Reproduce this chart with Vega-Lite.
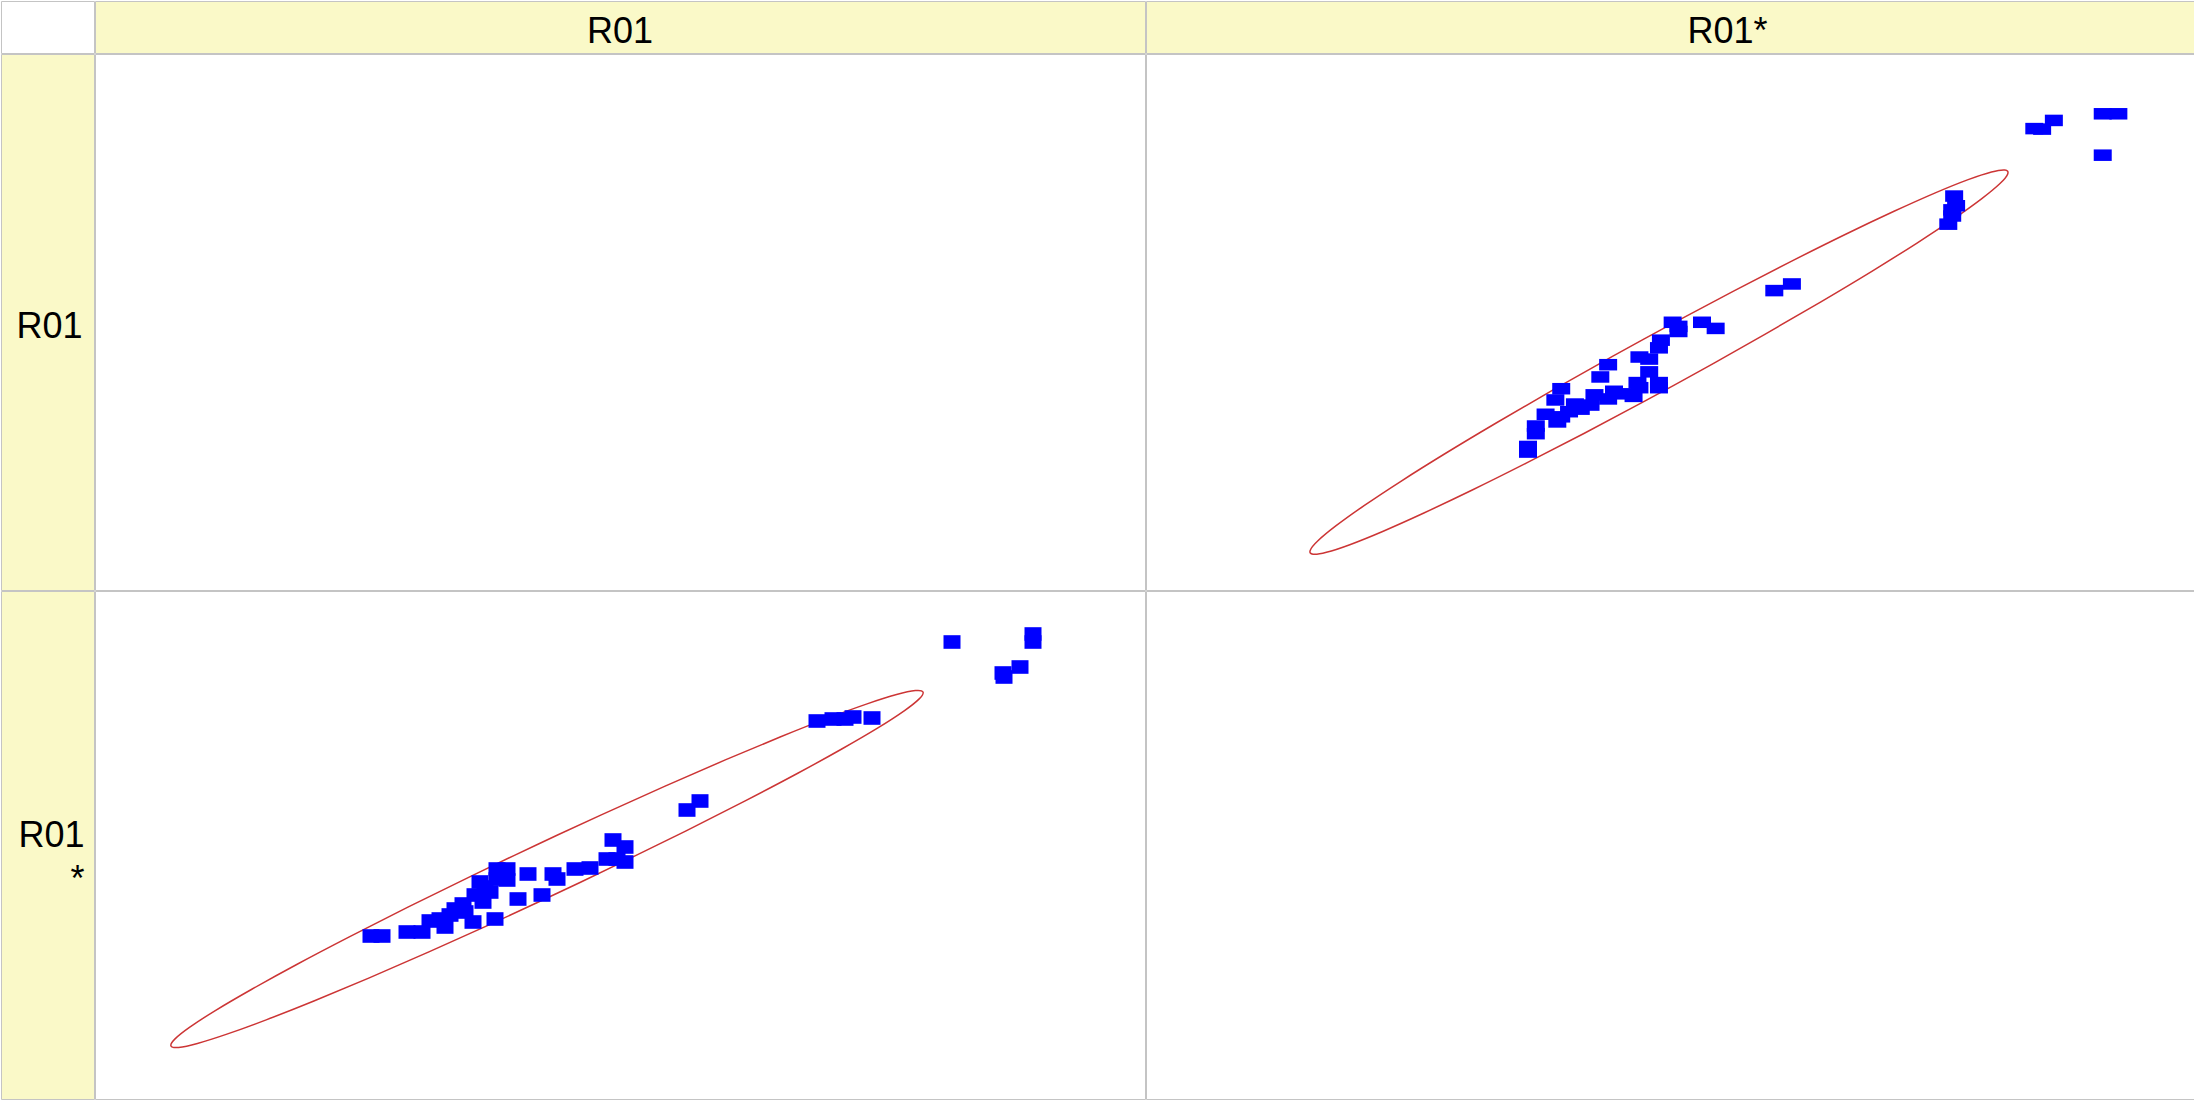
{
  "$schema": "https://vega.github.io/schema/vega-lite/v6.json",
  "padding": 0,
  "spacing": -2,
  "background": "white",
  "config": {
    "view": {"stroke": "#c4c4c4", "strokeWidth": 1},
    "concat": {"spacing": -2},
    "text": {"font": "Liberation Sans", "fontSize": 36, "color": "#000000"}
  },
  "datasets": {
    "pts": [
      {"r01": 27.6, "r01star": 32.6}, {"r01": 28.7, "r01star": 32.6}, {"r01": 31.2, "r01star": 33.4},
      {"r01": 32.7, "r01star": 33.4}, {"r01": 33.5, "r01star": 35.6}, {"r01": 34.5, "r01star": 36.0},
      {"r01": 35.5, "r01star": 36.8}, {"r01": 36.0, "r01star": 38.0}, {"r01": 36.8, "r01star": 39.0},
      {"r01": 37.8, "r01star": 35.4}, {"r01": 38.0, "r01star": 40.8}, {"r01": 38.8, "r01star": 39.4},
      {"r01": 39.0, "r01star": 42.4}, {"r01": 40.0, "r01star": 36.0}, {"r01": 40.2, "r01star": 46.0},
      {"r01": 41.2, "r01star": 46.0}, {"r01": 40.2, "r01star": 44.0}, {"r01": 41.2, "r01star": 43.8},
      {"r01": 42.3, "r01star": 40.0}, {"r01": 43.3, "r01star": 45.0}, {"r01": 44.7, "r01star": 40.8},
      {"r01": 45.8, "r01star": 45.0}, {"r01": 46.2, "r01star": 44.0}, {"r01": 48.0, "r01star": 46.0},
      {"r01": 49.5, "r01star": 46.2}, {"r01": 51.2, "r01star": 48.0}, {"r01": 51.8, "r01star": 51.8},
      {"r01": 53.0, "r01star": 50.4}, {"r01": 53.0, "r01star": 47.4}, {"r01": 52.2, "r01star": 48.0},
      {"r01": 38.5, "r01star": 43.4}, {"r01": 39.5, "r01star": 41.4}, {"r01": 37.0, "r01star": 37.4},
      {"r01": 35.0, "r01star": 34.4},
      {"r01": 59.2, "r01star": 57.8}, {"r01": 60.5, "r01star": 59.6},
      {"r01": 72.2, "r01star": 75.6}, {"r01": 73.8, "r01star": 76.0}, {"r01": 75.0, "r01star": 76.0},
      {"r01": 75.8, "r01star": 76.4}, {"r01": 77.7, "r01star": 76.2},
      {"r01": 85.7, "r01star": 91.4}, {"r01": 93.8, "r01star": 93.0}, {"r01": 93.8, "r01star": 91.4},
      {"r01": 90.9, "r01star": 84.4}, {"r01": 92.5, "r01star": 86.4}, {"r01": 90.8, "r01star": 85.2}
    ],
    "ell": [
      {"i": 0, "r01": 82.80, "r01star": 81.39}, {"i": 1, "r01": 82.42, "r01star": 80.02},
      {"i": 2, "r01": 80.92, "r01star": 77.63}, {"i": 3, "r01": 78.33, "r01star": 74.27},
      {"i": 4, "r01": 74.72, "r01star": 70.05}, {"i": 5, "r01": 70.23, "r01star": 65.10},
      {"i": 6, "r01": 64.97, "r01star": 59.58}, {"i": 7, "r01": 59.11, "r01star": 53.63},
      {"i": 8, "r01": 52.83, "r01star": 47.46}, {"i": 9, "r01": 46.32, "r01star": 41.24},
      {"i": 10, "r01": 39.78, "r01star": 35.17}, {"i": 11, "r01": 33.39, "r01star": 29.43},
      {"i": 12, "r01": 27.37, "r01star": 24.18}, {"i": 13, "r01": 21.89, "r01star": 19.60},
      {"i": 14, "r01": 17.12, "r01star": 15.83}, {"i": 15, "r01": 13.19, "r01star": 12.97},
      {"i": 16, "r01": 10.24, "r01star": 11.11}, {"i": 17, "r01": 8.36, "r01star": 10.32},
      {"i": 18, "r01": 7.60, "r01star": 10.61}, {"i": 19, "r01": 7.98, "r01star": 11.98},
      {"i": 20, "r01": 9.48, "r01star": 14.37}, {"i": 21, "r01": 12.07, "r01star": 17.73},
      {"i": 22, "r01": 15.68, "r01star": 21.95}, {"i": 23, "r01": 20.17, "r01star": 26.90},
      {"i": 24, "r01": 25.43, "r01star": 32.42}, {"i": 25, "r01": 31.29, "r01star": 38.37},
      {"i": 26, "r01": 37.57, "r01star": 44.54}, {"i": 27, "r01": 44.08, "r01star": 50.76},
      {"i": 28, "r01": 50.63, "r01star": 56.83}, {"i": 29, "r01": 57.01, "r01star": 62.57},
      {"i": 30, "r01": 63.03, "r01star": 67.82}, {"i": 31, "r01": 68.51, "r01star": 72.40},
      {"i": 32, "r01": 73.28, "r01star": 76.17}, {"i": 33, "r01": 77.21, "r01star": 79.03},
      {"i": 34, "r01": 80.16, "r01star": 80.89}, {"i": 35, "r01": 82.04, "r01star": 81.68}
    ]
  },
  "vconcat": [
    {
      "spacing": -2,
      "hconcat": [
        {"width": 93, "height": 52, "data": {"values": []}, "mark": "point", "view": {"fill": "white", "stroke": "#c4c4c4"}},
        {"width": 1050, "height": 52, "data": {"values": [{"label": "R01"}]},
         "mark": {"type": "text", "dy": 5}, "encoding": {"text": {"field": "label"}},
         "view": {"fill": "#FAF9C8", "stroke": "#c4c4c4"}},
        {"width": 1049, "height": 52, "data": {"values": [{"label": "R01*"}]},
         "mark": {"type": "text", "dy": 5, "dx": 57}, "encoding": {"text": {"field": "label"}},
         "view": {"fill": "#FAF9C8", "stroke": "#c4c4c4"}}
      ]
    },
    {
      "spacing": -2,
      "hconcat": [
        {"width": 93, "height": 536, "data": {"values": [{"label": "R01"}]},
         "mark": {"type": "text", "dy": 5, "dx": 2}, "encoding": {"text": {"field": "label"}},
         "view": {"fill": "#FAF9C8", "stroke": "#c4c4c4"}},
        {"width": 1050, "height": 536, "data": {"values": []}, "mark": "point", "view": {"fill": "white", "stroke": "#c4c4c4"}},
        {"width": 1049, "height": 536, "view": {"fill": "white", "stroke": "#c4c4c4"},
         "layer": [
           {"data": {"name": "ell"},
            "mark": {"type": "line", "color": "#cc3535", "strokeWidth": 1.5, "interpolate": "cardinal-closed"},
            "encoding": {
              "x": {"field": "r01star", "type": "quantitative", "scale": {"domain": [-6.48, 100.84], "nice": false, "zero": false}, "axis": null},
              "y": {"field": "r01", "type": "quantitative", "scale": {"domain": [0.61, 105.5], "nice": false, "zero": false}, "axis": null},
              "order": {"field": "i", "type": "quantitative"}
            }},
           {"data": {"name": "pts"},
            "mark": {"type": "point", "shape": "M-1,-0.64L1,-0.64L1,0.64L-1,0.64Z", "filled": true, "color": "#0000ff", "opacity": 1, "size": 324},
            "encoding": {
              "x": {"field": "r01star", "type": "quantitative"},
              "y": {"field": "r01", "type": "quantitative"}
            }}
         ]}
      ]
    },
    {
      "spacing": -2,
      "hconcat": [
        {"width": 93, "height": 508, "data": {"values": [{"label": "R01\n*"}]},
         "mark": {"type": "text", "lineBreak": "\n", "lineHeight": 44, "align": "right", "dx": 37, "dy": -9},
         "encoding": {"text": {"field": "label"}},
         "view": {"fill": "#FAF9C8", "stroke": "#c4c4c4"}},
        {"width": 1050, "height": 508, "view": {"fill": "white", "stroke": "#c4c4c4"},
         "layer": [
           {"data": {"name": "ell"},
            "mark": {"type": "line", "color": "#cc3535", "strokeWidth": 1.5, "interpolate": "cardinal-closed"},
            "encoding": {
              "x": {"field": "r01", "type": "quantitative", "scale": {"domain": [0, 105], "nice": false, "zero": false}, "axis": null},
              "y": {"field": "r01star", "type": "quantitative", "scale": {"domain": [0, 101.6], "nice": false, "zero": false}, "axis": null},
              "order": {"field": "i", "type": "quantitative"}
            }},
           {"data": {"name": "pts"},
            "mark": {"type": "point", "shape": "M-1,-0.8L1,-0.8L1,0.8L-1,0.8Z", "filled": true, "color": "#0000ff", "opacity": 1, "size": 289},
            "encoding": {
              "x": {"field": "r01", "type": "quantitative"},
              "y": {"field": "r01star", "type": "quantitative"}
            }}
         ]},
        {"width": 1049, "height": 508, "data": {"values": []}, "mark": "point", "view": {"fill": "white", "stroke": "#c4c4c4"}}
      ]
    }
  ]
}
